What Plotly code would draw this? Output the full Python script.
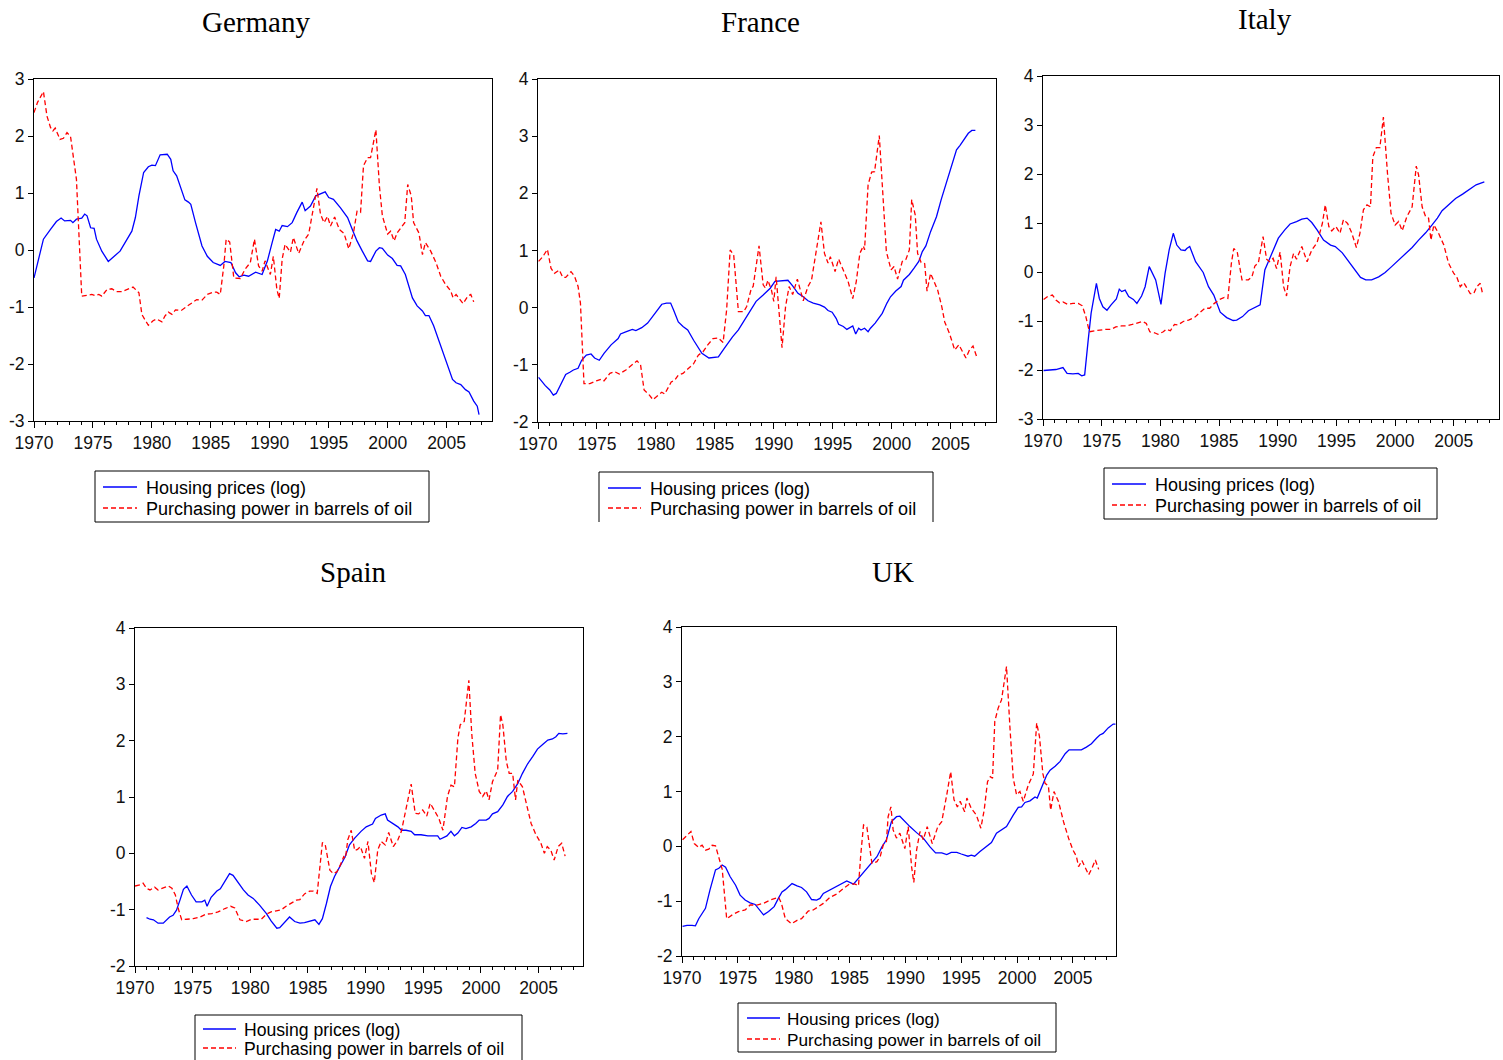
import plotly.graph_objects as go

W, H = 1503, 1060
OFF = 0  # the page body margin is removed below, so page pixels = figure pixels

# ---------------- DATA ----------------
panel_titles = ["Germany", "France", "Italy", "Spain", "UK"]
series_names = ["Housing prices (log)", "Purchasing power in barrels of oil"]
x_tick_vals = [1970, 1975, 1980, 1985, 1990, 1995, 2000, 2005]
x_tick_text = ["1970", "1975", "1980", "1985", "1990", "1995", "2000", "2005"]

germany_house_t = [1970.0, 1970.8, 1971.4, 1971.9, 1972.3, 1972.6, 1973.1, 1973.3, 1973.6, 1974.05, 1974.3, 1974.5, 1974.8, 1975.1, 1975.3, 1975.75, 1976.3, 1976.7, 1977.3, 1977.9, 1978.3, 1978.6, 1978.9, 1979.3, 1979.7, 1980.0, 1980.3, 1980.7, 1981.3, 1981.6, 1981.8, 1982.1, 1982.4, 1982.8, 1983.1, 1983.3, 1983.7, 1984.25, 1984.7, 1985.2, 1985.8, 1986.2, 1986.7, 1987.1, 1987.4, 1987.8, 1988.2, 1988.8, 1989.35, 1989.8, 1990.2, 1990.5, 1990.8, 1991.05, 1991.5, 1991.9, 1992.3, 1992.75, 1993.0, 1993.45, 1993.9, 1994.3, 1994.7, 1995.0, 1995.4, 1996.0, 1996.6, 1997.0, 1997.4, 1997.85, 1998.3, 1998.55, 1999.0, 1999.3, 1999.55, 2000.0, 2000.4, 2000.8, 2001.1, 2001.5, 2001.8, 2002.1, 2002.5, 2002.95, 2003.2, 2003.5, 2003.9, 2004.4, 2004.9, 2005.2, 2005.5, 2005.8, 2006.2, 2006.6, 2006.9, 2007.3, 2007.6, 2007.75]
germany_house_v = [-0.49, 0.19, 0.36, 0.50, 0.56, 0.51, 0.52, 0.48, 0.54, 0.56, 0.63, 0.60, 0.39, 0.38, 0.19, -0.02, -0.20, -0.13, -0.02, 0.19, 0.33, 0.57, 0.95, 1.36, 1.46, 1.49, 1.48, 1.67, 1.68, 1.59, 1.39, 1.30, 1.12, 0.88, 0.84, 0.80, 0.48, 0.07, -0.11, -0.22, -0.27, -0.20, -0.22, -0.40, -0.47, -0.44, -0.46, -0.39, -0.43, -0.19, 0.13, 0.36, 0.33, 0.43, 0.41, 0.48, 0.66, 0.84, 0.69, 0.77, 0.95, 0.98, 1.02, 0.92, 0.89, 0.74, 0.57, 0.36, 0.16, -0.02, -0.19, -0.20, -0.02, 0.04, 0.03, -0.09, -0.15, -0.27, -0.28, -0.43, -0.63, -0.84, -0.98, -1.07, -1.15, -1.15, -1.33, -1.63, -1.92, -2.07, -2.27, -2.33, -2.36, -2.45, -2.49, -2.65, -2.74, -2.89]
germany_oil_t = [1970.0, 1970.3, 1970.8, 1971.1, 1971.4, 1971.6, 1971.8, 1972.2, 1972.5, 1972.8, 1973.1, 1973.3, 1973.6, 1974.05, 1974.5, 1974.9, 1975.2, 1975.5, 1975.75, 1976.2, 1976.6, 1977.0, 1977.45, 1977.9, 1978.4, 1978.9, 1979.15, 1979.4, 1979.7, 1980.1, 1980.4, 1980.85, 1981.1, 1981.4, 1981.7, 1982.0, 1982.5, 1983.1, 1983.8, 1984.25, 1984.7, 1985.2, 1985.5, 1985.8, 1986.1, 1986.3, 1986.6, 1986.95, 1987.5, 1987.9, 1988.35, 1988.7, 1989.05, 1989.35, 1989.6, 1990.05, 1990.3, 1990.6, 1990.8, 1991.05, 1991.3, 1991.75, 1992.0, 1992.45, 1992.9, 1993.3, 1993.6, 1994.0, 1994.3, 1994.6, 1994.9, 1995.15, 1995.5, 1995.9, 1996.3, 1996.7, 1997.1, 1997.4, 1997.7, 1997.95, 1998.3, 1998.55, 1999.0, 1999.3, 1999.55, 2000.0, 2000.25, 2000.55, 2000.8, 2001.1, 2001.45, 2001.7, 2002.0, 2002.2, 2002.65, 2002.95, 2003.2, 2003.65, 2004.1, 2004.5, 2004.9, 2005.35, 2005.55, 2005.8, 2006.05, 2006.4, 2006.8, 2007.05, 2007.3]
germany_oil_v = [2.41, 2.59, 2.78, 2.35, 2.15, 2.09, 2.14, 1.94, 1.96, 2.06, 1.99, 1.65, 1.24, -0.81, -0.79, -0.78, -0.80, -0.78, -0.81, -0.69, -0.68, -0.73, -0.73, -0.69, -0.65, -0.75, -1.13, -1.22, -1.32, -1.24, -1.21, -1.26, -1.16, -1.09, -1.13, -1.05, -1.06, -0.97, -0.87, -0.88, -0.78, -0.74, -0.74, -0.78, -0.28, 0.19, 0.14, -0.49, -0.50, -0.34, -0.22, 0.19, -0.28, -0.37, -0.19, -0.43, -0.11, -0.69, -0.85, -0.16, 0.10, -0.04, 0.22, -0.06, 0.16, 0.28, 0.63, 1.08, 0.63, 0.48, 0.59, 0.42, 0.58, 0.36, 0.29, 0.02, 0.30, 0.68, 0.66, 1.48, 1.62, 1.62, 2.11, 1.12, 0.60, 0.28, 0.33, 0.16, 0.30, 0.39, 0.48, 1.15, 0.95, 0.48, 0.30, -0.08, 0.13, -0.02, -0.22, -0.46, -0.60, -0.72, -0.84, -0.78, -0.84, -0.94, -0.81, -0.78, -0.91]

france_house_t = [1970.05, 1970.6, 1971.0, 1971.3, 1971.55, 1972.0, 1972.35, 1972.7, 1973.0, 1973.4, 1973.7, 1974.1, 1974.5, 1974.8, 1975.2, 1975.6, 1976.2, 1976.8, 1977.0, 1977.5, 1978.0, 1978.3, 1978.8, 1979.3, 1979.8, 1980.2, 1980.5, 1980.9, 1981.25, 1981.5, 1981.9, 1982.3, 1982.7, 1983.2, 1983.9, 1984.5, 1985.0, 1985.3, 1985.8, 1986.5, 1987.0, 1987.4, 1988.0, 1988.5, 1989.1, 1989.7, 1990.1, 1990.5, 1991.2, 1991.6, 1992.05, 1992.5, 1992.9, 1993.35, 1993.9, 1994.3, 1994.6, 1994.95, 1995.3, 1995.5, 1995.9, 1996.2, 1996.5, 1996.7, 1996.95, 1997.2, 1997.4, 1997.7, 1998.0, 1998.2, 1998.6, 1999.0, 1999.2, 1999.6, 1999.9, 2000.35, 2000.8, 2001.0, 2001.5, 2001.9, 2002.3, 2002.6, 2002.9, 2003.3, 2003.8, 2004.2, 2004.65, 2005.1, 2005.5, 2005.8, 2006.1, 2006.5, 2006.8, 2007.1]
france_house_v = [-1.22, -1.36, -1.44, -1.53, -1.50, -1.30, -1.17, -1.13, -1.09, -1.06, -0.92, -0.83, -0.81, -0.88, -0.92, -0.80, -0.65, -0.54, -0.46, -0.42, -0.38, -0.40, -0.35, -0.27, -0.13, -0.01, 0.06, 0.08, 0.08, -0.04, -0.25, -0.33, -0.39, -0.57, -0.80, -0.88, -0.86, -0.86, -0.71, -0.51, -0.39, -0.25, -0.04, 0.11, 0.22, 0.34, 0.46, 0.47, 0.48, 0.38, 0.25, 0.19, 0.12, 0.08, 0.05, 0.01, -0.05, -0.08, -0.19, -0.29, -0.33, -0.38, -0.35, -0.32, -0.46, -0.36, -0.39, -0.36, -0.42, -0.36, -0.27, -0.16, -0.10, 0.08, 0.19, 0.29, 0.37, 0.48, 0.58, 0.69, 0.81, 0.98, 1.08, 1.33, 1.59, 1.89, 2.18, 2.47, 2.76, 2.84, 2.94, 3.05, 3.10, 3.10]
france_oil_t = [1970.05, 1970.4, 1970.8, 1971.1, 1971.4, 1971.8, 1972.1, 1972.35, 1972.8, 1973.1, 1973.4, 1973.6, 1973.9, 1974.4, 1974.95, 1975.4, 1975.6, 1976.1, 1976.5, 1976.9, 1977.45, 1978.0, 1978.4, 1978.7, 1979.0, 1979.45, 1979.75, 1980.2, 1980.5, 1980.75, 1981.0, 1981.3, 1981.6, 1981.9, 1982.3, 1982.7, 1983.2, 1983.6, 1984.0, 1984.4, 1984.85, 1985.3, 1985.7, 1986.0, 1986.3, 1986.6, 1987.0, 1987.45, 1987.7, 1988.1, 1988.25, 1988.75, 1989.1, 1989.3, 1989.5, 1989.8, 1990.0, 1990.2, 1990.5, 1990.7, 1991.0, 1991.3, 1991.6, 1992.0, 1992.5, 1992.9, 1993.2, 1993.6, 1994.0, 1994.3, 1994.6, 1994.8, 1995.2, 1995.5, 1995.9, 1996.3, 1996.7, 1997.0, 1997.3, 1997.6, 1997.7, 1998.0, 1998.3, 1998.55, 1998.95, 1999.3, 1999.55, 1999.95, 2000.2, 2000.5, 2000.9, 2001.2, 2001.5, 2001.7, 2002.0, 2002.2, 2002.5, 2002.8, 2003.0, 2003.3, 2003.6, 2003.9, 2004.25, 2004.5, 2004.9, 2005.35, 2005.7, 2005.95, 2006.3, 2006.6, 2006.9, 2007.2]
france_oil_v = [0.81, 0.89, 1.02, 0.69, 0.60, 0.66, 0.53, 0.53, 0.63, 0.55, 0.37, 0.08, -1.33, -1.33, -1.28, -1.25, -1.28, -1.15, -1.12, -1.16, -1.09, -0.99, -0.93, -1.00, -1.44, -1.53, -1.61, -1.53, -1.48, -1.51, -1.41, -1.30, -1.27, -1.18, -1.15, -1.08, -0.98, -0.83, -0.77, -0.65, -0.54, -0.53, -0.61, -0.04, 1.01, 0.92, -0.07, -0.07, 0.02, 0.34, 0.37, 1.08, 0.40, 0.34, 0.48, 0.31, 0.11, 0.54, -0.22, -0.70, 0.02, 0.37, 0.23, 0.50, 0.12, 0.37, 0.48, 1.01, 1.50, 0.95, 0.78, 0.89, 0.63, 0.85, 0.66, 0.46, 0.16, 0.46, 0.95, 1.08, 1.01, 2.15, 2.37, 2.38, 3.01, 1.71, 0.98, 0.66, 0.72, 0.50, 0.81, 0.84, 1.01, 1.89, 1.62, 0.95, 0.79, 0.77, 0.29, 0.60, 0.46, 0.31, 0.02, -0.25, -0.45, -0.74, -0.65, -0.74, -0.88, -0.74, -0.67, -0.85]

italy_house_t = [1970.05, 1970.6, 1971.1, 1971.7, 1972.05, 1972.55, 1973.0, 1973.3, 1973.55, 1973.85, 1974.1, 1974.55, 1974.8, 1975.1, 1975.45, 1975.8, 1976.25, 1976.5, 1976.7, 1977.0, 1977.3, 1977.7, 1978.0, 1978.4, 1978.7, 1979.05, 1979.35, 1979.6, 1980.05, 1980.4, 1980.75, 1981.1, 1981.4, 1981.75, 1982.1, 1982.25, 1982.5, 1983.0, 1983.65, 1984.1, 1984.55, 1985.1, 1985.65, 1986.2, 1986.5, 1987.0, 1987.5, 1988.05, 1988.5, 1988.9, 1989.5, 1990.05, 1990.6, 1991.05, 1991.6, 1992.05, 1992.5, 1992.9, 1993.35, 1993.9, 1994.5, 1994.9, 1995.5, 1996.05, 1996.6, 1997.05, 1997.5, 1998.0, 1998.6, 1999.15, 1999.7, 2000.3, 2000.85, 2001.45, 2002.0, 2002.6, 2003.15, 2003.6, 2004.0, 2004.6, 2005.15, 2005.75, 2006.3, 2006.9, 2007.6]
italy_house_v = [-2.01, -2.00, -1.99, -1.95, -2.07, -2.08, -2.07, -2.12, -2.10, -1.39, -0.84, -0.23, -0.54, -0.71, -0.78, -0.67, -0.55, -0.35, -0.40, -0.37, -0.50, -0.56, -0.64, -0.49, -0.30, 0.11, -0.04, -0.16, -0.66, -0.03, 0.45, 0.79, 0.55, 0.45, 0.44, 0.48, 0.52, 0.21, -0.01, -0.30, -0.47, -0.82, -0.93, -0.99, -0.98, -0.91, -0.79, -0.72, -0.67, 0.04, 0.38, 0.69, 0.86, 0.98, 1.03, 1.08, 1.10, 1.01, 0.86, 0.65, 0.55, 0.52, 0.39, 0.21, 0.05, -0.11, -0.16, -0.16, -0.10, -0.01, 0.11, 0.24, 0.37, 0.50, 0.65, 0.80, 0.96, 1.10, 1.25, 1.39, 1.50, 1.59, 1.69, 1.78, 1.84]
italy_oil_t = [1970.05, 1970.4, 1970.8, 1971.1, 1971.4, 1971.7, 1972.1, 1972.55, 1973.0, 1973.35, 1973.65, 1973.95, 1974.4, 1974.95, 1975.4, 1975.8, 1976.2, 1976.7, 1977.1, 1977.6, 1978.1, 1978.5, 1978.8, 1979.1, 1979.5, 1979.8, 1980.25, 1980.5, 1980.85, 1981.2, 1981.5, 1981.95, 1982.4, 1982.9, 1983.3, 1983.8, 1984.2, 1984.6, 1985.05, 1985.45, 1985.75, 1986.05, 1986.25, 1986.55, 1986.95, 1987.5, 1987.8, 1988.05, 1988.35, 1988.75, 1989.05, 1989.3, 1989.6, 1989.9, 1990.2, 1990.5, 1990.75, 1991.05, 1991.35, 1991.6, 1992.05, 1992.5, 1992.9, 1993.35, 1993.8, 1994.05, 1994.35, 1994.6, 1994.95, 1995.3, 1995.6, 1995.95, 1996.3, 1996.7, 1997.0, 1997.3, 1997.6, 1997.9, 1998.1, 1998.4, 1998.7, 1999.0, 1999.35, 1999.65, 2000.0, 2000.3, 2000.6, 2001.0, 2001.45, 2001.8, 2002.0, 2002.3, 2002.6, 2002.85, 2003.05, 2003.3, 2003.7, 2004.15, 2004.55, 2005.0, 2005.25, 2005.55, 2005.85, 2006.1, 2006.4, 2006.7, 2006.95, 2007.25, 2007.45]
italy_oil_v = [-0.56, -0.50, -0.47, -0.57, -0.63, -0.61, -0.66, -0.64, -0.64, -0.69, -0.91, -1.22, -1.20, -1.18, -1.17, -1.17, -1.12, -1.10, -1.10, -1.07, -1.03, -1.01, -1.05, -1.22, -1.24, -1.27, -1.22, -1.17, -1.20, -1.07, -1.08, -1.01, -0.98, -0.93, -0.84, -0.74, -0.74, -0.64, -0.56, -0.52, -0.54, 0.18, 0.48, 0.41, -0.16, -0.16, -0.10, 0.12, 0.19, 0.72, 0.26, 0.21, 0.28, 0.07, 0.41, -0.30, -0.49, 0.11, 0.38, 0.26, 0.52, 0.21, 0.45, 0.60, 0.99, 1.37, 0.93, 0.84, 0.93, 0.79, 1.07, 0.99, 0.80, 0.50, 0.79, 1.27, 1.37, 1.33, 2.35, 2.54, 2.54, 3.16, 2.01, 1.20, 0.96, 1.03, 0.84, 1.13, 1.33, 2.16, 1.98, 1.33, 1.13, 1.10, 0.65, 0.96, 0.79, 0.55, 0.18, -0.03, -0.10, -0.30, -0.22, -0.33, -0.44, -0.44, -0.30, -0.23, -0.44]

spain_house_t = [1971.0, 1971.3, 1971.6, 1972.0, 1972.45, 1972.75, 1973.0, 1973.3, 1973.6, 1973.9, 1974.2, 1974.5, 1974.9, 1975.3, 1975.8, 1976.05, 1976.25, 1976.6, 1977.1, 1977.4, 1977.8, 1978.2, 1978.5, 1978.95, 1979.4, 1979.8, 1980.25, 1980.8, 1981.4, 1981.8, 1982.3, 1982.55, 1983.0, 1983.4, 1983.85, 1984.3, 1984.7, 1985.15, 1985.6, 1985.95, 1986.25, 1986.6, 1986.95, 1987.3, 1987.75, 1988.2, 1988.6, 1989.05, 1989.6, 1990.05, 1990.6, 1990.85, 1991.35, 1991.7, 1991.9, 1992.35, 1992.8, 1993.1, 1993.5, 1993.95, 1994.25, 1994.8, 1995.4, 1995.95, 1996.25, 1996.45, 1996.85, 1997.05, 1997.4, 1997.7, 1998.0, 1998.35, 1998.7, 1999.15, 1999.55, 1999.85, 2000.45, 2000.7, 2001.0, 2001.45, 2001.9, 2002.3, 2002.75, 2003.2, 2003.6, 2004.05, 2004.5, 2004.9, 2005.35, 2005.8, 2006.2, 2006.5, 2006.75, 2007.1, 2007.5]
spain_house_v = [-1.14, -1.17, -1.18, -1.24, -1.24, -1.18, -1.13, -1.10, -1.01, -0.83, -0.64, -0.58, -0.74, -0.86, -0.86, -0.83, -0.94, -0.78, -0.67, -0.63, -0.50, -0.36, -0.39, -0.52, -0.65, -0.74, -0.80, -0.92, -1.07, -1.20, -1.33, -1.32, -1.21, -1.13, -1.21, -1.24, -1.23, -1.21, -1.18, -1.26, -1.16, -0.89, -0.59, -0.41, -0.24, -0.07, 0.15, 0.27, 0.39, 0.47, 0.52, 0.62, 0.68, 0.70, 0.59, 0.53, 0.47, 0.41, 0.41, 0.39, 0.33, 0.33, 0.31, 0.31, 0.31, 0.25, 0.30, 0.31, 0.39, 0.31, 0.36, 0.46, 0.44, 0.47, 0.53, 0.59, 0.59, 0.62, 0.70, 0.74, 0.86, 1.01, 1.10, 1.24, 1.42, 1.59, 1.72, 1.85, 1.93, 2.01, 2.03, 2.07, 2.13, 2.12, 2.13]
spain_oil_t = [1970.0, 1970.45, 1970.7, 1971.0, 1971.3, 1971.7, 1972.0, 1972.45, 1972.9, 1973.2, 1973.5, 1973.75, 1974.05, 1974.5, 1975.05, 1975.65, 1976.15, 1976.65, 1977.2, 1977.8, 1978.3, 1978.65, 1979.1, 1979.65, 1980.1, 1980.5, 1980.95, 1981.4, 1981.8, 1982.25, 1982.7, 1983.1, 1983.55, 1984.0, 1984.3, 1984.7, 1985.15, 1985.45, 1985.8, 1986.0, 1986.25, 1986.5, 1986.9, 1987.2, 1987.5, 1987.8, 1988.1, 1988.25, 1988.45, 1988.75, 1989.05, 1989.3, 1989.55, 1989.9, 1990.2, 1990.5, 1990.75, 1991.05, 1991.35, 1991.7, 1992.0, 1992.4, 1992.8, 1993.1, 1993.5, 1993.95, 1994.3, 1994.6, 1994.95, 1995.3, 1995.6, 1995.95, 1996.35, 1996.7, 1997.1, 1997.4, 1997.7, 1998.0, 1998.2, 1998.55, 1998.95, 1999.2, 1999.5, 1999.85, 2000.15, 2000.45, 2000.7, 2001.0, 2001.45, 2001.7, 2001.9, 2002.2, 2002.45, 2002.75, 2003.0, 2003.2, 2003.6, 2004.0, 2004.35, 2004.75, 2005.2, 2005.5, 2005.75, 2006.05, 2006.35, 2006.7, 2007.0, 2007.3]
spain_oil_v = [-0.58, -0.56, -0.53, -0.62, -0.65, -0.60, -0.65, -0.62, -0.58, -0.62, -0.74, -0.98, -1.18, -1.17, -1.16, -1.13, -1.08, -1.07, -1.04, -0.98, -0.94, -0.97, -1.18, -1.21, -1.17, -1.17, -1.17, -1.08, -1.04, -1.02, -1.00, -0.94, -0.89, -0.83, -0.82, -0.72, -0.67, -0.67, -0.71, -0.30, 0.19, 0.15, -0.30, -0.36, -0.33, -0.21, -0.06, -0.09, 0.24, 0.41, 0.05, 0.07, 0.12, -0.09, 0.21, -0.36, -0.52, 0.06, 0.21, 0.15, 0.37, 0.12, 0.24, 0.39, 0.77, 1.23, 0.71, 0.70, 0.77, 0.66, 0.89, 0.77, 0.62, 0.41, 1.01, 1.21, 1.18, 2.04, 2.28, 2.34, 3.07, 2.13, 1.42, 1.10, 1.01, 1.11, 0.95, 1.27, 1.48, 2.46, 2.28, 1.63, 1.42, 1.42, 0.95, 1.30, 1.18, 0.83, 0.53, 0.34, 0.18, 0.00, 0.12, 0.06, -0.12, 0.12, 0.18, -0.05]

uk_house_t = [1970.05, 1970.45, 1970.9, 1971.2, 1971.5, 1972.1, 1972.5, 1973.0, 1973.3, 1973.6, 1973.9, 1974.3, 1974.8, 1975.2, 1975.65, 1976.1, 1976.55, 1976.85, 1977.3, 1977.75, 1978.25, 1978.65, 1978.95, 1979.25, 1979.55, 1979.85, 1980.3, 1980.7, 1981.15, 1981.6, 1982.05, 1982.35, 1982.65, 1983.25, 1983.7, 1984.15, 1984.75, 1985.35, 1985.65, 1986.25, 1986.85, 1987.45, 1987.9, 1988.3, 1988.75, 1989.2, 1989.5, 1989.95, 1990.4, 1991.0, 1991.6, 1992.2, 1992.7, 1993.25, 1993.7, 1994.1, 1994.6, 1995.0, 1995.6, 1995.9, 1996.2, 1996.65, 1997.1, 1997.7, 1998.15, 1998.6, 1999.05, 1999.65, 2000.1, 2000.4, 2000.7, 2001.15, 2001.6, 2001.8, 2002.2, 2002.65, 2002.95, 2003.4, 2003.85, 2004.3, 2004.65, 2005.0, 2005.45, 2005.75, 2006.2, 2006.65, 2007.1, 2007.4, 2007.7, 2008.15, 2008.6, 2008.8]
uk_house_v = [-1.46, -1.44, -1.44, -1.45, -1.32, -1.13, -0.80, -0.43, -0.40, -0.34, -0.38, -0.55, -0.71, -0.89, -0.98, -1.03, -1.06, -1.14, -1.25, -1.19, -1.10, -0.94, -0.83, -0.79, -0.74, -0.68, -0.72, -0.75, -0.83, -0.97, -0.98, -0.95, -0.86, -0.79, -0.74, -0.69, -0.63, -0.69, -0.62, -0.46, -0.34, -0.19, -0.01, 0.12, 0.45, 0.54, 0.55, 0.45, 0.36, 0.25, 0.15, -0.01, -0.12, -0.12, -0.15, -0.11, -0.11, -0.14, -0.18, -0.16, -0.18, -0.10, -0.02, 0.07, 0.24, 0.30, 0.36, 0.57, 0.71, 0.72, 0.80, 0.83, 0.90, 0.88, 1.09, 1.30, 1.39, 1.46, 1.55, 1.69, 1.76, 1.76, 1.76, 1.76, 1.81, 1.87, 1.97, 2.03, 2.06, 2.16, 2.23, 2.23]
uk_oil_t = [1970.05, 1970.45, 1970.8, 1971.1, 1971.5, 1971.8, 1972.1, 1972.4, 1972.7, 1973.0, 1973.3, 1973.6, 1974.0, 1974.5, 1975.05, 1975.65, 1976.1, 1976.7, 1977.3, 1977.9, 1978.65, 1978.9, 1979.25, 1979.8, 1980.3, 1980.7, 1981.0, 1981.3, 1981.75, 1982.2, 1982.65, 1983.25, 1983.85, 1984.45, 1985.05, 1985.5, 1985.8, 1986.0, 1986.25, 1986.55, 1987.0, 1987.45, 1987.75, 1988.05, 1988.3, 1988.45, 1988.7, 1988.9, 1989.2, 1989.5, 1989.95, 1990.25, 1990.55, 1990.75, 1991.0, 1991.3, 1991.6, 1991.95, 1992.4, 1992.9, 1993.25, 1993.7, 1994.05, 1994.35, 1994.65, 1994.9, 1995.3, 1995.5, 1995.9, 1996.35, 1996.75, 1997.05, 1997.35, 1997.6, 1997.8, 1998.0, 1998.3, 1998.6, 1999.05, 1999.35, 1999.65, 1999.95, 2000.25, 2000.55, 2001.0, 2001.45, 2001.75, 2002.0, 2002.3, 2002.5, 2002.8, 2003.0, 2003.3, 2003.7, 2004.15, 2004.6, 2005.0, 2005.3, 2005.5, 2005.8, 2006.1, 2006.4, 2006.7, 2007.0, 2007.3]
uk_oil_v = [0.12, 0.21, 0.27, 0.05, -0.02, 0.02, -0.07, -0.05, 0.02, 0.01, -0.19, -0.42, -1.32, -1.25, -1.19, -1.16, -1.07, -1.07, -1.04, -0.98, -0.93, -1.04, -1.32, -1.41, -1.35, -1.32, -1.25, -1.18, -1.16, -1.10, -1.04, -0.93, -0.87, -0.77, -0.68, -0.69, -0.72, -0.16, 0.39, 0.35, -0.31, -0.28, -0.18, 0.05, 0.09, 0.54, 0.72, 0.30, 0.15, 0.24, -0.04, 0.36, -0.37, -0.66, -0.07, 0.27, 0.12, 0.36, 0.05, 0.36, 0.45, 0.94, 1.36, 0.85, 0.72, 0.82, 0.63, 0.88, 0.69, 0.57, 0.33, 0.66, 1.18, 1.27, 1.24, 2.28, 2.52, 2.67, 3.28, 2.19, 1.24, 0.94, 1.00, 0.82, 1.12, 1.32, 2.25, 2.00, 1.33, 1.15, 1.10, 0.66, 1.00, 0.82, 0.45, 0.15, -0.07, -0.18, -0.37, -0.26, -0.40, -0.52, -0.40, -0.25, -0.42]

germany_y_ticks = [-3, -2, -1, 0, 1, 2, 3]
france_y_ticks = [-2, -1, 0, 1, 2, 3, 4]
italy_y_ticks = [-3, -2, -1, 0, 1, 2, 3, 4]
spain_y_ticks = [-2, -1, 0, 1, 2, 3, 4]
uk_y_ticks = [-2, -1, 0, 1, 2, 3, 4]

# ---------------- LAYOUT (pixel positions in the page) ----------------
def px(x):
    return (x - OFF) / W


def py(y):
    return 1 - (y - OFF) / H


panels = [
    dict(house=(germany_house_t, germany_house_v), oil=(germany_oil_t, germany_oil_v),
         yt=germany_y_ticks, box=(34, 492, 79, 421), title=(256, 22),
         leg=dict(box=(95, 429, 471, 522), closed=True, sample=(103, 137), rows=(487, 508), tx=145, fs=18)),
    dict(house=(france_house_t, france_house_v), oil=(france_oil_t, france_oil_v),
         yt=france_y_ticks, box=(538, 996, 79, 422), title=(761, 22),
         leg=dict(box=(599, 933, 472, 522), closed=False, sample=(608, 641), rows=(488, 508), tx=649, fs=18)),
    dict(house=(italy_house_t, italy_house_v), oil=(italy_oil_t, italy_oil_v),
         yt=italy_y_ticks, box=(1043, 1499, 76, 419), title=(1265, 19),
         leg=dict(box=(1104, 1437, 468, 519), closed=True, sample=(1112, 1146), rows=(484, 505), tx=1154, fs=18)),
    dict(house=(spain_house_t, spain_house_v), oil=(spain_oil_t, spain_oil_v),
         yt=spain_y_ticks, box=(135, 583, 628, 966), title=(353, 572),
         leg=dict(box=(195, 522, 1015, 1075), closed=False, sample=(203, 236), rows=(1029, 1048), tx=243, fs=17.6)),
    dict(house=(uk_house_t, uk_house_v), oil=(uk_oil_t, uk_oil_v),
         yt=uk_y_ticks, box=(682, 1116, 627, 956), title=(893, 572),
         leg=dict(box=(738, 1056, 1003, 1052), closed=True, sample=(747, 780), rows=(1018, 1039), tx=786, fs=17.2)),
]

SANS = "Liberation Sans, Arial, sans-serif"
SERIF = "Liberation Serif, Times New Roman, serif"
TICK_FONT = dict(family=SANS, size=17.5, color="#111111")
BLUE, RED = "#0000FF", "#FF0000"
DASH = "5px,3px"

fig = go.Figure()
annotations = []
shapes = []
layout_axes = {}

for i, p in enumerate(panels):
    n = i + 1
    xs = "" if n == 1 else str(n)
    fig.add_trace(go.Scatter(
        x=p["house"][0], y=p["house"][1], mode="lines", name=series_names[0],
        line=dict(color=BLUE, width=1.3), xaxis=f"x{xs}", yaxis=f"y{xs}", showlegend=False))
    fig.add_trace(go.Scatter(
        x=p["oil"][0], y=p["oil"][1], mode="lines", name=series_names[1],
        line=dict(color=RED, width=1.3, dash=DASH), xaxis=f"x{xs}", yaxis=f"y{xs}", showlegend=False))
    x0, x1, y0, y1 = p["box"]
    layout_axes[f"xaxis{xs}"] = dict(
        domain=[px(x0), px(x1)], anchor=f"y{xs}", range=[1970, 2008.85],
        tickvals=x_tick_vals, ticktext=x_tick_text, ticks="outside", ticklen=6,
        tickcolor="black", tickwidth=1, showgrid=False, zeroline=False,
        showline=True, linecolor="black", linewidth=1, mirror=True,
        tickfont=TICK_FONT,
        minor=dict(dtick=1, tick0=1970, ticks="outside", ticklen=3, tickcolor="black", showgrid=False))
    layout_axes[f"yaxis{xs}"] = dict(
        domain=[py(y1), py(y0)], anchor=f"x{xs}", range=[min(p["yt"]), max(p["yt"])],
        tickvals=p["yt"], ticktext=[str(v) for v in p["yt"]], ticks="outside", ticklen=5,
        tickcolor="black", tickwidth=1, showgrid=False, zeroline=False,
        showline=True, linecolor="black", linewidth=1, mirror=True,
        tickfont=TICK_FONT)
    tx, ty = p["title"]
    annotations.append(dict(
        text=panel_titles[i], x=px(tx), y=py(ty), xref="paper", yref="paper",
        showarrow=False, xanchor="center", yanchor="middle",
        font=dict(family=SERIF, size=29, color="black")))

    # legend box (drawn as a framed key, like the original figure)
    lg = p["leg"]
    bx0, bx1, by0, by1 = lg["box"]
    if lg["closed"]:
        shapes.append(dict(type="rect", xref="paper", yref="paper",
                           x0=px(bx0), x1=px(bx1), y0=py(by1), y1=py(by0),
                           line=dict(color="black", width=1), fillcolor="white", layer="above"))
    else:
        for (ax0, ay0, ax1, ay1) in [(bx0, by1, bx0, by0), (bx0, by0, bx1, by0), (bx1, by0, bx1, by1)]:
            shapes.append(dict(type="line", xref="paper", yref="paper",
                               x0=px(ax0), y0=py(ay0), x1=px(ax1), y1=py(ay1),
                               line=dict(color="black", width=1), layer="above"))
    sx0, sx1 = lg["sample"]
    for k, (col, dash) in enumerate([(BLUE, "solid"), (RED, DASH)]):
        ry = lg["rows"][k]
        shapes.append(dict(type="line", xref="paper", yref="paper",
                           x0=px(sx0), x1=px(sx1), y0=py(ry), y1=py(ry),
                           line=dict(color=col, width=1.3, dash=dash), layer="above"))
        annotations.append(dict(
            text=series_names[k], x=px(lg["tx"] - 1), y=py(ry + 1), xref="paper", yref="paper",
            showarrow=False, xanchor="left", yanchor="middle",
            font=dict(family=SANS, size=lg["fs"], color="black")))

fig.update_layout(
    width=W, height=H, paper_bgcolor="white", plot_bgcolor="white",
    margin=dict(l=0, r=0, t=0, b=0, autoexpand=False),
    showlegend=False, annotations=annotations, shapes=shapes, **layout_axes)

fig.write_html(
    "out.html",
    config={"displayModeBar": False},
    post_script="document.body.style.margin='0px'; document.body.style.overflow='hidden';")
